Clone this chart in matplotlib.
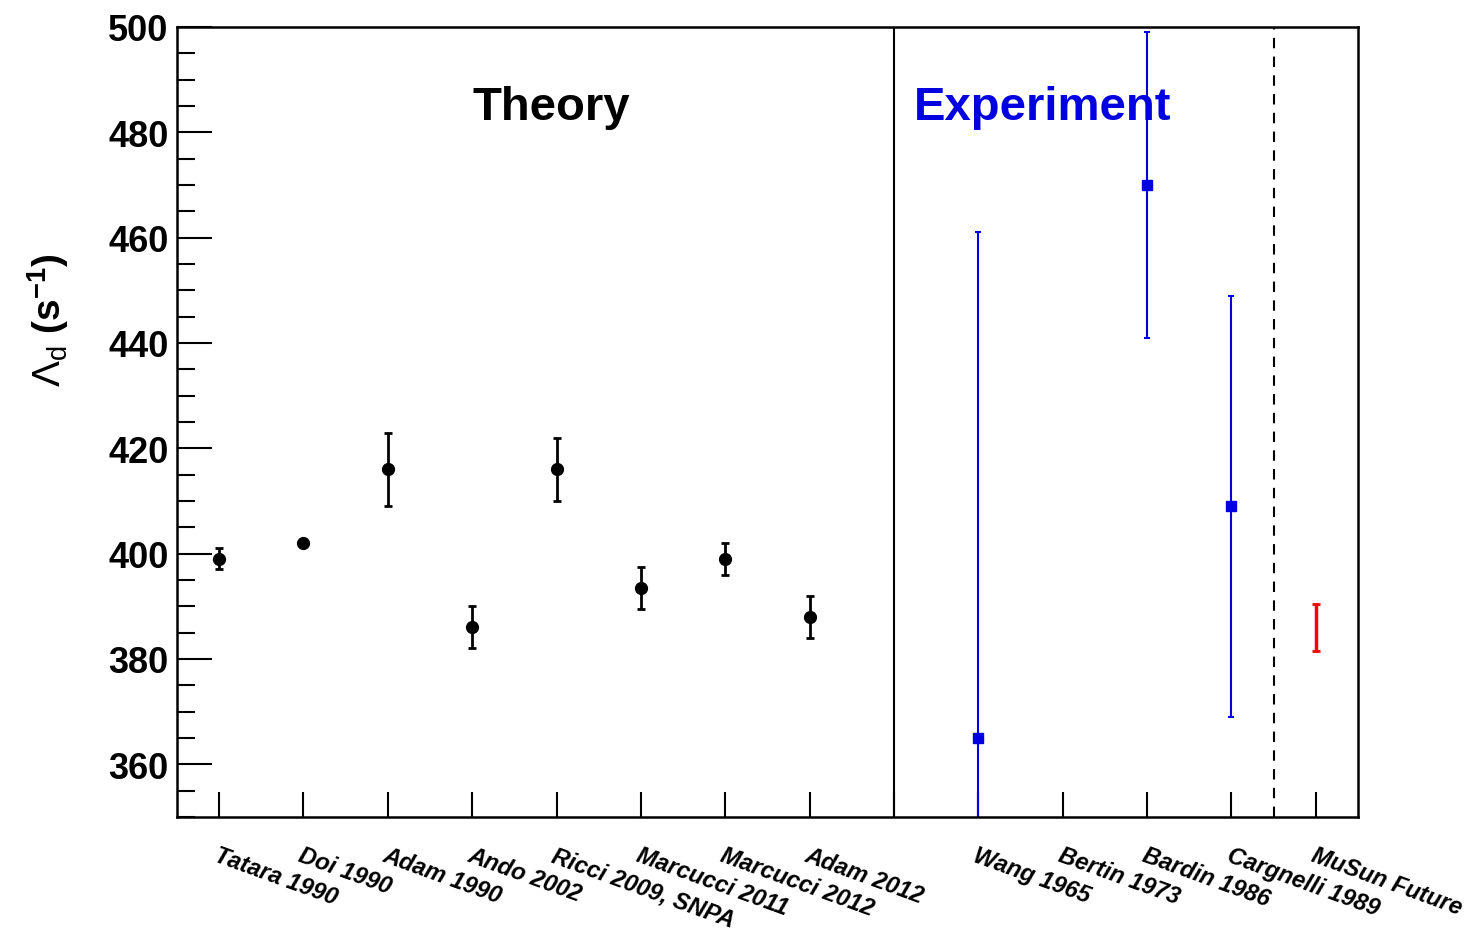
import matplotlib.pyplot as plt
import numpy as np

plt.rcParams['font.family'] = ['Liberation Sans', 'DejaVu Sans']
plt.rcParams['mathtext.fontset'] = 'custom'
plt.rcParams['mathtext.rm'] = 'Liberation Sans'
plt.rcParams['mathtext.bf'] = 'Liberation Sans:bold'
plt.rcParams['mathtext.it'] = 'Liberation Sans:italic'

# data
labels = ["Tatara 1990", "Doi 1990", "Adam 1990", "Ando 2002", "Ricci 2009, SNPA",
          "Marcucci 2011", "Marcucci 2012", "Adam 2012", "",
          "Wang 1965", "Bertin 1973", "Bardin 1986", "Cargnelli 1989", "MuSun Future"]

theory_x = [1, 2, 3, 4, 5, 6, 7, 8]
theory_y = [399, 402, 416, 386, 416, 393.5, 399, 388]
theory_err = [2, 0, 7, 4, 6, 4, 3, 4]

exp_x = [10, 12, 13]
exp_y = [365, 470, 409]
exp_err = [96, 29, 40]

future_x = [14]
future_y = [386]
future_err = [4.5]

fig = plt.figure(figsize=(14.66, 9.29), dpi=100)
ax = fig.add_axes([0.1207, 0.1195, 0.8056, 0.8504])

ax.errorbar(theory_x, theory_y, yerr=theory_err, fmt='o', color='black', ms=8.5,
            elinewidth=2, capsize=3, capthick=2)
ax.errorbar(exp_x, exp_y, yerr=exp_err, fmt='s', color='#0000e0', ms=7,
            elinewidth=1.5, capsize=2.5, capthick=1.5)
ax.errorbar(future_x, future_y, yerr=future_err, fmt='none', ecolor='red',
            elinewidth=2.5, capsize=3, capthick=2)

ax.axvline(9, color='black', lw=1.5)
ax.axvline(13.5, color='black', lw=1.5, ls=(0, (5, 4)))

ax.set_xlim(0.5, 14.5)
ax.set_ylim(350, 500)

ax.set_xticks(range(1, 15))
ax.set_xticklabels(labels, rotation=-20, ha='left', va='top', rotation_mode='anchor',
                   fontsize=17, fontweight='bold', fontstyle='italic')
ax.tick_params(axis='x', direction='in', length=18, width=1.5, pad=19, top=False)

ax.set_yticks(np.arange(360, 501, 20))
ax.set_yticks(np.arange(350, 501, 5), minor=True)
ax.tick_params(axis='y', which='major', direction='in', length=25, width=1.5,
               labelsize=26, pad=6, right=False)
ax.tick_params(axis='y', which='minor', direction='in', length=13, width=1.5, right=False)
for lab in ax.get_yticklabels():
    lab.set_fontweight('bold')

for s in ax.spines.values():
    s.set_linewidth(1.8)

ax.set_ylabel(r"$\Lambda_\mathrm{d}$ $\mathbf{(s^{-1})}$", fontsize=28, labelpad=42)
ax.yaxis.set_label_coords(-0.09, 0.63)

ax.text(4, 482.5, "Theory", fontsize=34, fontweight='bold', color='black')
ax.text(9.24, 482.5, "Experiment", fontsize=34, fontweight='bold', color='#0000e0')

fig.savefig("out.png", dpi=100)
